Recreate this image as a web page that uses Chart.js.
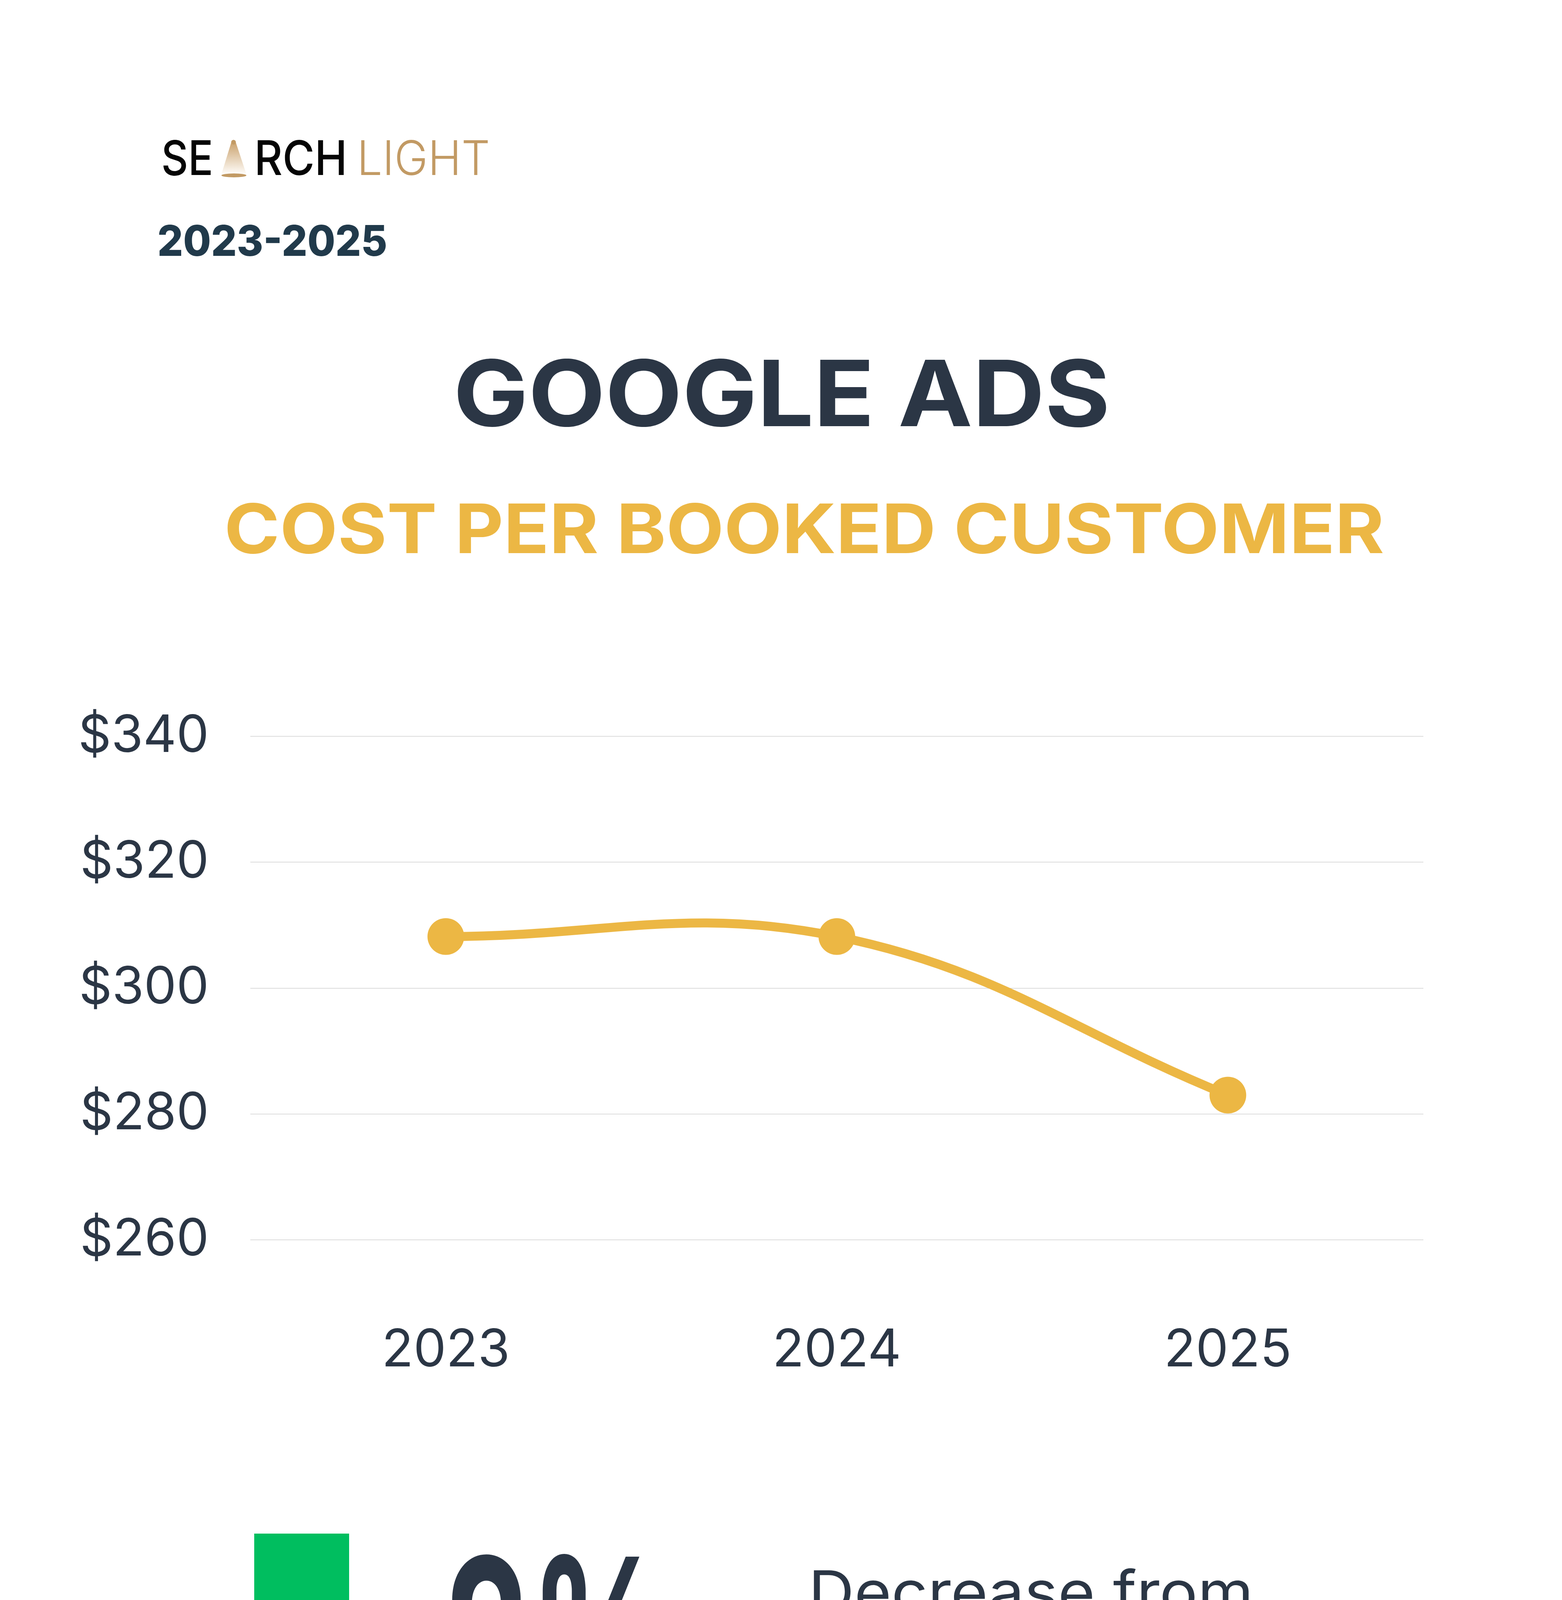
<!DOCTYPE html>
<html>
<head>
<meta charset="utf-8">
<title>Google Ads - Cost per booked customer</title>
<script src="https://cdn.jsdelivr.net/npm/chart.js@4.4.1/dist/chart.umd.min.js"></script>
<style>
  html, body { margin: 0; padding: 0; background: #ffffff; }
  #page { position: relative; width: 4000px; height: 5000px; background: #ffffff; overflow: hidden; }
  #art { position: absolute; left: 0; top: 0; }
  #chartBox { position: absolute; left: 0; top: 1700px; width: 4000px; height: 1950px; }
  text { font-family: Inter, "Open Sans", sans-serif; }
</style>
</head>
<body>
<div id="page">
  <svg id="art" width="4000" height="5000" viewBox="0 0 4000 5000">
    <defs>
      <linearGradient id="beam" x1="0" y1="0" x2="0" y2="1">
        <stop offset="0" stop-color="#c9a06a"/>
        <stop offset="1" stop-color="#fffdfa"/>
      </linearGradient>
    </defs>

    <!-- logo -->
    <text x="413" y="448" font-size="122" font-weight="500" fill="#050505" textLength="133" lengthAdjust="spacingAndGlyphs">SE</text>
    <polygon points="593,362 603,362 631,446 567,446" fill="url(#beam)"/>
    <circle cx="598" cy="364" r="6" fill="#c29a64"/>
    <ellipse cx="599" cy="449" rx="32" ry="5" fill="#c29a64"/>
    <text x="651" y="448" font-size="122" font-weight="500" fill="#050505" textLength="238" lengthAdjust="spacingAndGlyphs">RCH</text>
    <text x="914" y="448" font-size="122" font-weight="300" fill="#c29a64" textLength="341" lengthAdjust="spacingAndGlyphs">LIGHT</text>

    <text x="403" y="655" font-size="109" font-weight="800" fill="#213a4b" textLength="589" lengthAdjust="spacingAndGlyphs">2023-2025</text>

    <!-- titles -->
    <text x="1161" y="1091" font-size="234" font-weight="700" fill="#2b3645" textLength="1682" lengthAdjust="spacingAndGlyphs">GOOGLE ADS</text>
    <text x="574" y="1416" font-size="175" font-weight="700" fill="#ecb744" textLength="2971" lengthAdjust="spacingAndGlyphs">COST PER BOOKED CUSTOMER</text>

    <!-- summary -->
    <polygon points="651,3926 894,3926 894,4168 1014,4168 771,4409 530,4168 651,4168" fill="#00be5f"/>
    <text x="1133" y="4415" font-size="591" font-weight="700" fill="#2b3645" textLength="577" lengthAdjust="spacingAndGlyphs">8%</text>
    <text x="2070" y="4129" font-size="150" font-weight="400" fill="#2b3645" textLength="1140" lengthAdjust="spacingAndGlyphs">Decrease from</text>
    <text x="2061" y="4316" font-size="150" font-weight="400" fill="#2b3645" textLength="989" lengthAdjust="spacingAndGlyphs">2023 to 2025</text>
  </svg>

  <div id="chartBox"><canvas id="costChart"></canvas></div>
</div>

<script>
  // values
  var years = ['2023', '2024', '2025'];
  var costPerCustomer = [308.2, 308.2, 283];
  var yMin = 260;
  var yMax = 340;
  var yStep = 20;

  var ink = '#2b3645';
  var gold = '#ecb744';

  document.addEventListener('DOMContentLoaded', function () {
    var ctx = document.getElementById('costChart').getContext('2d');
    var costChart = new Chart(ctx, {
      type: 'line',
      data: {
        labels: years,
        datasets: [{
          label: 'Cost per booked customer',
          data: costPerCustomer,
          borderColor: gold,
          backgroundColor: gold,
          borderWidth: 23,
          tension: 0.4,
          pointRadius: 47,
          pointHoverRadius: 47,
          pointBorderWidth: 0,
          pointBackgroundColor: gold,
          fill: false
        }]
      },
      options: {
        responsive: true,
        maintainAspectRatio: false,
        animation: false,
        devicePixelRatio: 1,
        layout: {
          padding: { top: 169, right: 355, bottom: 112, left: 0 }
        },
        plugins: {
          legend: { display: false },
          tooltip: { enabled: false }
        },
        scales: {
          x: {
            offset: true,
            grid: { display: false, drawTicks: false },
            border: { display: false },
            afterFit: function (scale) { scale.height = 364; },
            ticks: {
              color: ink,
              padding: 204,
              font: { family: 'Inter', size: 133, weight: '400' }
            }
          },
          y: {
            min: yMin,
            max: yMax,
            grid: { color: '#dcdcdc', lineWidth: 2, drawTicks: false },
            border: { display: false },
            afterFit: function (scale) { scale.width = 641; },
            ticks: {
              stepSize: yStep,
              color: ink,
              padding: 106,
              font: { family: 'Inter', size: 132, weight: '400' },
              callback: function (value) { return '$' + value; }
            }
          }
        }
      }
    });
  });
</script>
</body>
</html>
